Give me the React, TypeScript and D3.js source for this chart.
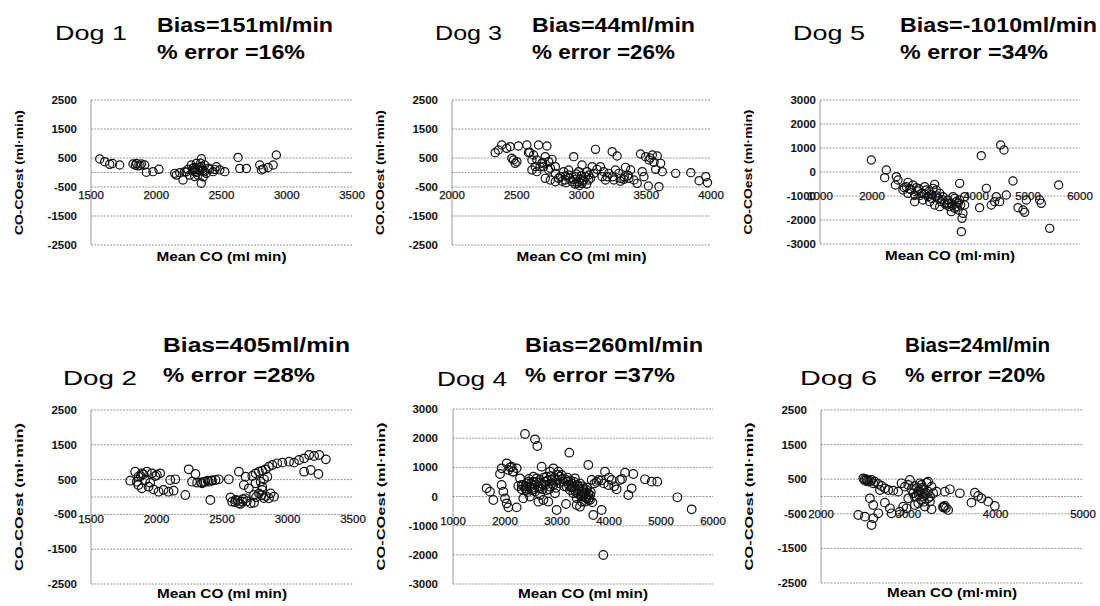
import React from "react";
import * as d3 from "d3";

// Bland-Altman style scatter: difference (CO - COest) against mean CO, one panel per dog.
type Pt = [number, number]; // [mean CO, CO - COest] in ml/min

const dog1: Pt[] = [
  [1567, 466], [1605, 373], [1643, 282], [1665, 310], [1720, 259], [1822, 293], [1840, 250],
  [1848, 310], [1860, 230], [1875, 240], [1886, 293], [1911, 260], [1924, 7], [1975, 30],
  [2021, 110], [2141, -30], [2154, -90], [2180, -10], [2205, -259], [2218, 30], [2230, 20],
  [2243, 110], [2256, -90], [2269, 260], [2280, 60], [2282, 140], [2290, 170], [2295, 30],
  [2295, -140], [2300, 100], [2307, 310], [2310, 0], [2320, -90], [2320, 110], [2330, 180],
  [2335, 50], [2340, 320], [2346, 475], [2346, 200], [2345, -372], [2350, 120], [2358, 60],
  [2360, -150], [2370, 30], [2371, 260], [2384, -30], [2400, 150], [2410, 110], [2436, 30],
  [2450, 100], [2461, 200], [2487, 90], [2525, 30], [2627, 520], [2640, 140], [2691, 140],
  [2793, 260], [2806, 90], [2820, 120], [2857, 175], [2896, 260], [2920, 604],
];

const dog2: Pt[] = [
  [1799, 469], [1837, 728], [1850, 440], [1862, 584], [1862, 345], [1880, 600], [1888, 680],
  [1888, 249], [1900, 650], [1913, 488], [1926, 728], [1939, 297], [1952, 412], [1965, 680],
  [1977, 220], [1990, 600], [2003, 632], [2016, 153], [2028, 680], [2054, 201], [2092, 153],
  [2105, 488], [2131, 182], [2144, 508], [2220, 57], [2246, 795], [2271, 440], [2297, 661],
  [2310, 412], [2340, 420], [2348, 393], [2360, 430], [2373, 440], [2390, 470], [2399, 440],
  [2411, -86], [2420, 480], [2424, 469], [2450, 488], [2475, 508], [2552, 508], [2565, -10],
  [2578, -134], [2600, -150], [2603, -86], [2620, -100], [2629, 728], [2629, -182], [2640, -200],
  [2654, -134], [2660, -60], [2667, 345], [2680, 584], [2680, -38], [2690, -120], [2705, 249],
  [2718, -182], [2731, 603], [2744, 57], [2744, -163], [2756, 680], [2756, 393], [2760, 0],
  [2782, 728], [2782, 105], [2795, 440], [2800, 50], [2807, 757], [2807, 201], [2807, 297],
  [2820, 508], [2820, -30], [2833, 795], [2833, 28], [2846, 584], [2858, 872], [2858, -38],
  [2871, 105], [2884, 920], [2897, 9], [2922, 968], [2961, 987], [3012, 1015], [3050, 987],
  [3088, 1063], [3127, 1111], [3127, 728], [3165, 1207], [3178, 776], [3203, 1178], [3236, 661],
  [3242, 1207], [3293, 1082],
];

const dog3: Pt[] = [
  [2333, 684], [2358, 776], [2384, 948], [2423, 834], [2449, 891], [2462, 489], [2475, 431],
  [2488, 316], [2501, 374], [2513, 914], [2578, 948], [2591, 684], [2600, 700], [2617, 431],
  [2617, 86], [2630, 604], [2643, 201], [2655, 431], [2655, 29], [2668, 948], [2680, 200],
  [2694, 316], [2700, 350], [2707, 201], [2720, 546], [2720, -202], [2733, 914], [2746, 374],
  [2746, 86], [2759, -259], [2760, 150], [2772, 454], [2798, 201], [2798, -29], [2798, -317],
  [2823, -202], [2836, -144], [2850, -300], [2862, 29], [2875, -259], [2875, -121], [2880, -350],
  [2901, -87], [2901, 86], [2910, -200], [2927, -317], [2940, 546], [2940, -236], [2950, -400],
  [2953, -144], [2960, -50], [2966, -374], [2978, 29], [2978, -317], [2985, -450], [2991, -236],
  [3000, -100], [3004, 258], [3004, -374], [3010, -300], [3017, -259], [3030, -144], [3040, -400],
  [3043, 29], [3056, -259], [3056, -87], [3070, -200], [3082, 201], [3095, -29], [3108, 799],
  [3120, 109], [3146, 201], [3159, -144], [3172, 29], [3185, -259], [3198, -144], [3211, -29],
  [3237, 718], [3240, -150], [3250, -259], [3262, 86], [3275, 569], [3288, -29], [3300, -300],
  [3301, -202], [3327, -236], [3330, -150], [3340, 178], [3360, -100], [3366, -202], [3379, 86],
  [3405, -259], [3430, -374], [3456, 638], [3469, 29], [3482, -144], [3495, 546], [3516, -466],
  [3521, 431], [3530, 500], [3547, 604], [3560, 350], [3573, 109], [3585, 569], [3598, -489],
  [3611, 316], [3624, 29], [3727, -29], [3844, -6], [3908, -282], [3960, -144], [3973, -351],
];

const dog4: Pt[] = [
  [1647, 280], [1711, 166], [1776, -120], [1904, 772], [1936, 394], [1936, 966], [1968, 166],
  [2000, -63], [2032, -234], [2032, 1137], [2064, -372], [2064, 909], [2100, 1000], [2128, 1023],
  [2150, 850], [2160, 852], [2224, -372], [2224, 966], [2256, 360], [2288, 623], [2320, 246],
  [2320, 394], [2350, 400], [2352, -63], [2385, 2143], [2385, 280], [2400, 350], [2417, 451],
  [2417, 223], [2430, 150], [2449, 509], [2460, 600], [2481, 337], [2481, -4], [2500, 450],
  [2513, 223], [2520, 300], [2545, 509], [2545, 680], [2560, 250], [2577, 1960], [2577, 166],
  [2577, 394], [2600, 500], [2609, 623], [2622, 1732], [2640, 350], [2641, -177], [2673, 566],
  [2673, 280], [2673, 51], [2700, 450], [2705, 1023], [2720, 250], [2737, 394], [2737, -120],
  [2750, 650], [2769, 509], [2780, 400], [2801, 223], [2801, 680], [2820, 550], [2833, -177],
  [2850, 250], [2865, 852], [2865, 337], [2880, 700], [2897, 566], [2910, 450], [2930, 966],
  [2930, 394], [2950, 650], [2961, 109], [2980, 300], [2993, -463], [2993, 566], [3010, 750],
  [3026, 852], [3040, 450], [3057, 680], [3090, 738], [3100, 600], [3122, 509], [3140, 350],
  [3154, 589], [3173, -257], [3186, 337], [3200, 650], [3218, 509], [3230, 400], [3237, 1503],
  [3250, 223], [3260, 550], [3282, 451], [3282, 314], [3300, 350], [3314, 109], [3330, 500],
  [3346, 623], [3346, 223], [3360, 150], [3378, -63], [3378, -292], [3390, 400], [3410, 337],
  [3410, 86], [3420, 250], [3442, -349], [3442, 451], [3450, 50], [3474, 166], [3474, -4],
  [3474, -177], [3490, 350], [3506, -4], [3506, 280], [3520, 150], [3538, -177], [3538, 109],
  [3550, 0], [3570, 223], [3570, -63], [3580, 300], [3602, 1080], [3602, -120], [3602, 86],
  [3620, -50], [3634, 51], [3634, -120], [3650, 150], [3666, 566], [3680, -200], [3698, -634],
  [3720, 450], [3760, 500], [3794, 566], [3850, 550], [3859, -463], [3891, -2006], [3900, 450],
  [3923, 852], [3987, 394], [4000, 650], [4051, 566], [4100, 350], [4147, 246], [4211, 566],
  [4250, 600], [4308, 818], [4372, 51], [4436, 280], [4468, 772], [4692, 589], [4820, 509],
  [4929, 509], [5314, -28], [5590, -440],
];

const dog5: Pt[] = [
  [1987, 500], [2244, -236], [2276, 83], [2449, -542], [2468, -194], [2500, -333], [2596, -750],
  [2620, -650], [2660, -611], [2692, -431], [2692, -889], [2730, -700], [2756, -750], [2788, -542],
  [2820, -958], [2820, -1236], [2852, -653], [2885, -792], [2900, -700], [2949, -889], [2981, -1167],
  [3000, -900], [3013, -611], [3045, -750], [3077, -1028], [3100, -800], [3109, -1236], [3141, -931],
  [3150, -1100], [3173, -681], [3205, -514], [3205, -1375], [3237, -750], [3250, -1000], [3269, -1097],
  [3301, -889], [3301, -1444], [3333, -1236], [3350, -1150], [3365, -1028], [3397, -1306], [3429, -1375],
  [3450, -1300], [3461, -1167], [3493, -1444], [3525, -1306], [3525, -1653], [3550, -1400], [3558, -1028],
  [3590, -1514], [3590, -1097], [3620, -1450], [3622, -1236], [3654, -1583], [3660, -1300], [3686, -472],
  [3686, -1167], [3705, -1375], [3718, -2486], [3731, -1931], [3750, -1722], [3782, -1028], [3782, -1375],
  [4070, -1486], [4102, 681], [4199, -681], [4295, -1375], [4359, -1236], [4391, -1028], [4455, -1236],
  [4474, 1125], [4538, 917], [4583, -958], [4711, -375], [4808, -1486], [4904, -1583], [4936, -1681],
  [4968, -1167], [5224, -1167], [5256, -1306], [5417, -2347], [5589, -542],
];

const dog6: Pt[] = [
  [2427, -534], [2484, 525], [2500, 500], [2503, 458], [2503, -582], [2522, 496], [2530, 450],
  [2541, 429], [2560, 450], [2560, -53], [2579, 477], [2579, -823], [2598, 381], [2598, -245],
  [2598, -630], [2617, 429], [2656, 362], [2656, -486], [2675, 188], [2694, 304], [2732, 236],
  [2732, -178], [2770, 188], [2789, -341], [2808, -486], [2827, 169], [2884, 140], [2903, -438],
  [2922, 381], [2941, -293], [2961, 285], [2980, -341], [2999, 333], [2999, -53], [3018, 477],
  [3037, 208], [3056, 92], [3075, 304], [3075, -4], [3075, -245], [3094, -4], [3100, 250],
  [3113, 140], [3113, -197], [3120, 50], [3130, 150], [3132, 381], [3151, -101], [3151, 333],
  [3160, 250], [3170, 208], [3170, -4], [3180, -150], [3189, 44], [3189, -293], [3200, 100],
  [3209, 400], [3228, 140], [3228, 429], [3228, -53], [3247, -149], [3250, 0], [3266, 285],
  [3266, -370], [3285, 92], [3323, 140], [3399, -293], [3400, -320], [3418, -274], [3418, 140],
  [3430, -330], [3456, -389], [3476, 208], [3590, 92], [3723, -178], [3762, 111], [3800, 15],
  [3838, -53], [3914, -149], [3990, -274],
];

const dogNames = ["Dog 1", "Dog 3", "Dog 5", "Dog 2", "Dog 4", "Dog 6"];
const biasMlMin = [151, 44, -1010, 405, 260, 24];
const errorPercent = [16, 26, 34, 28, 37, 20];
const dogSeries = [dog1, dog3, dog5, dog2, dog4, dog6];

const xTicks = [
  [1500, 2000, 2500, 3000, 3500],
  [2000, 2500, 3000, 3500, 4000],
  [1000, 2000, 3000, 4000, 5000, 6000],
  [1500, 2000, 2500, 3000, 3500],
  [1000, 2000, 3000, 4000, 5000, 6000],
  [2000, 3000, 4000, 5000],
];
const yTicks = [
  [2500, 1500, 500, -500, -1500, -2500],
  [2500, 1500, 500, -500, -1500, -2500],
  [3000, 2000, 1000, 0, -1000, -2000, -3000],
  [2500, 1500, 500, -500, -1500, -2500],
  [3000, 2000, 1000, 0, -1000, -2000, -3000],
  [2500, 1500, 500, -500, -1500, -2500],
];
const xAxisCrossing = [-500, -500, -1000, -500, -1000, -500];
const xTitles = ["Mean CO (ml min)", "Mean CO (ml min)", "Mean CO (ml·min)", "Mean CO (ml min)", "Mean CO (ml min)", "Mean CO (ml·min)"];
const yTitles = ["CO-COest (ml·min)", "CO.COest (ml·min)", "CO-COest (ml·min)", "CO-COest (ml·min)", "CO-COest (ml·min)", "CO-COest (ml·min)"];

// Panel frames and heading positions, in page pixels.
const frames = [
  { left: 91, right: 352, top: 100, bottom: 245, yGap: 14, xDy: 8, dog: [55, 40, 72], bias: [157, 32, 176], err: [157, 59, 148] },
  { left: 452, right: 711, top: 100, bottom: 245, yGap: 14, xDy: 8, dog: [435, 40, 67], bias: [532, 32, 163], err: [532, 59, 143] },
  { left: 820, right: 1080, top: 100, bottom: 244, yGap: 4, xDy: 0, dog: [793, 40, 72], bias: [900, 32, 197], err: [900, 59, 148] },
  { left: 91, right: 353, top: 410, bottom: 584, yGap: 14, xDy: 5, dog: [63, 385, 74], bias: [163, 352, 187], err: [163, 382, 152] },
  { left: 453, right: 713, top: 409, bottom: 584, yGap: 15, xDy: -5, dog: [437, 386, 70], bias: [525, 352, 178], err: [525, 382, 150] },
  { left: 821, right: 1083, top: 410, bottom: 583, yGap: 14, xDy: 0, dog: [800, 385, 77], bias: [905, 352, 145], err: [905, 382, 140] },
];

const FONT = "'Liberation Sans', Arial, Helvetica, sans-serif";

function Panel({ i }: { i: number }) {
  const f = frames[i];
  const xt = xTicks[i];
  const yt = yTicks[i];
  const x = d3.scaleLinear().domain([xt[0], xt[xt.length - 1]]).range([f.left, f.right]);
  const y = d3.scaleLinear().domain([yt[yt.length - 1], yt[0]]).range([f.bottom, f.top]);
  const gridVals = Array.from(new Set([...yt, 0]));
  const axisY = y(xAxisCrossing[i]);
  const midY = (f.top + f.bottom) / 2;
  const yTitleX = f.left - 72;
  const bottomRow = i >= 3;
  const r = bottomRow ? 4.3 : 4.1;
  return (
    <g>
      <text x={f.dog[0]} y={f.dog[1]} fontSize={21} fontFamily={FONT} textLength={f.dog[2]} lengthAdjust="spacingAndGlyphs">{dogNames[i]}</text>
      <text x={f.bias[0]} y={f.bias[1]} fontSize={20} fontWeight="bold" fontFamily={FONT} textLength={f.bias[2]} lengthAdjust="spacingAndGlyphs">{`Bias=${biasMlMin[i]}ml/min`}</text>
      <text x={f.err[0]} y={f.err[1]} fontSize={20} fontWeight="bold" fontFamily={FONT} textLength={f.err[2]} lengthAdjust="spacingAndGlyphs">{`% error =${errorPercent[i]}%`}</text>

      {gridVals.map((v) => (
        <line key={`g${v}`} x1={f.left} x2={f.right} y1={y(v)} y2={y(v)} stroke="#8c8c8c" strokeWidth={0.9} strokeDasharray="2,1.2" />
      ))}
      <line x1={f.left} x2={f.left} y1={f.top} y2={f.bottom} stroke="#9a9a9a" strokeWidth={1} />

      {yt.map((v) => (
        <text key={`y${v}`} x={f.left - f.yGap} y={y(v)} dy="0.35em" textAnchor="end" fontSize={11.5} fontWeight="bold" fontFamily={FONT} fill="#111">{String(v)}</text>
      ))}
      {xt.map((v) => (
        <text key={`x${v}`} x={x(v)} y={axisY + f.xDy} dy="0.35em" textAnchor="middle" fontSize={11.5} fontFamily={FONT} fill="#111" stroke="#111" strokeWidth={0.25}>{String(v)}</text>
      ))}

      {dogSeries[i].map((p, k) => (
        <circle key={k} cx={x(p[0])} cy={y(p[1])} r={r} fill="none" stroke="#111" strokeWidth={1.2} />
      ))}

      <text x={(f.left + f.right) / 2} y={f.bottom + (bottomRow ? 14 : 16)} textAnchor="middle" fontSize={12.5} fontWeight="bold" fontFamily={FONT} textLength={130} lengthAdjust="spacingAndGlyphs">{xTitles[i]}</text>
      <text transform={`translate(${yTitleX},${midY}) rotate(-90)`} textAnchor="middle" dy="0.35em" fontSize={11.5} fontWeight="bold" fontFamily={FONT} textLength={bottomRow ? 148 : 125} lengthAdjust="spacingAndGlyphs">{yTitles[i]}</text>
    </g>
  );
}

export default function App() {
  return (
    <div style={{ position: "fixed", left: 0, top: 0 }}>
      <svg width={1100} height={606} viewBox="0 0 1100 606" style={{ display: "block", background: "#fff" }}>
        {dogNames.map((_, i) => (
          <Panel key={i} i={i} />
        ))}
      </svg>
    </div>
  );
}
